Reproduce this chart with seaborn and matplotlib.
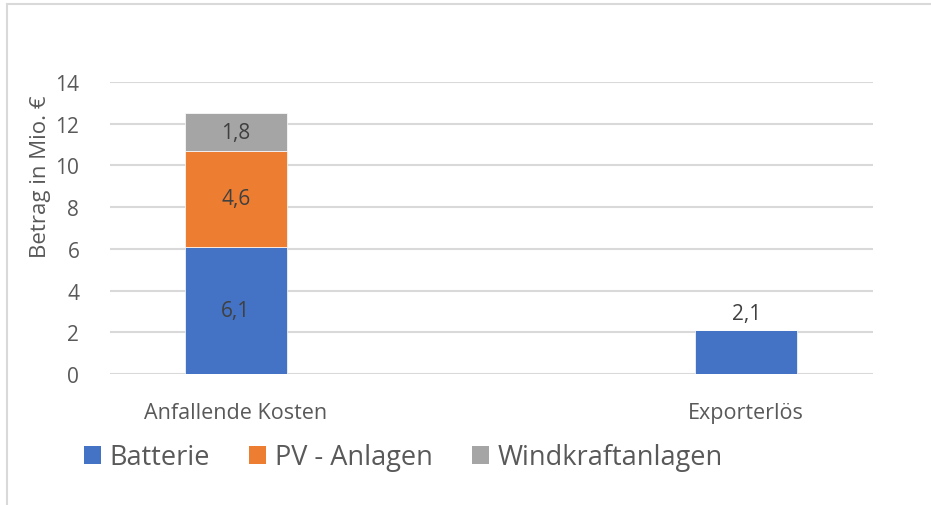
import matplotlib
matplotlib.use("Agg")
import matplotlib.pyplot as plt
import seaborn as sns
import pandas as pd
from matplotlib.lines import Line2D
from matplotlib.patches import Patch

categories = ["Anfallende Kosten", "Exporterlös"]
series = ["Batterie", "PV - Anlagen", "Windkraftanlagen"]
batterie = [6.1, 2.1]
pv_anlagen = [4.6, 0.0]
windkraft = [1.8, 0.0]
colors = ["#4472C4", "#ED7D31", "#A5A5A5"]

df = pd.DataFrame({"Kategorie": categories, "Batterie": batterie,
                   "PV - Anlagen": pv_anlagen, "Windkraftanlagen": windkraft})

sns.set_theme(style="white")
plt.rcParams["font.family"] = ["Open Sans", "DejaVu Sans"]
text_col = "#595959"

fig = plt.figure(figsize=(9.31, 5.06), dpi=100)
ax = fig.add_axes([0.118, 0.259, 0.82, 0.577])

bottom = [0.0, 0.0]
for name, col in zip(series, colors):
    vals = df[name].tolist()
    bars = ax.bar(range(len(categories)), vals, width=0.2, bottom=bottom,
                  color=col, edgecolor="white", linewidth=0.5, zorder=3)
    for i, (b, v) in enumerate(zip(bars, vals)):
        if v <= 0:
            continue
        lbl = f"{v:.1f}".replace(".", ",")
        if i == 0:
            ax.text(b.get_x() + b.get_width() / 2, bottom[i] + v / 2, lbl,
                    ha="center", va="center", fontsize=15, color="#404040")
        else:
            ax.text(b.get_x() + b.get_width() / 2, bottom[i] + v + 0.3, lbl,
                    ha="center", va="bottom", fontsize=15, color="#404040")
    bottom = [a + b for a, b in zip(bottom, vals)]

ax.set_xlim(-0.247, 1.249)
ax.set_ylim(0, 14)
ax.set_yticks(range(0, 15, 2))
ax.set_xticks(range(len(categories)))
ax.set_xticklabels(categories)
ax.tick_params(axis="both", length=0, labelsize=15, labelcolor=text_col)
ax.tick_params(axis="x", pad=20, labelsize=15.5)
ax.tick_params(axis="y", pad=22)
ax.yaxis.grid(True, color="#D9D9D9", linewidth=1.5, zorder=0)
sns.despine(ax=ax, left=True, bottom=True, top=True, right=True)

ax.set_ylabel("Betrag in Mio. €", fontsize=16, color=text_col)
ax.yaxis.set_label_coords(-0.077, 0.678)

handles = [Patch(facecolor=c, edgecolor="none") for c in colors]
fig.legend(handles, series, loc="center left", bbox_to_anchor=(0.064, 0.094),
           ncol=3, frameon=False, fontsize=19.5, handlelength=0.62, handleheight=0.62,
           handletextpad=0.33, columnspacing=1.45, labelcolor=text_col)

fig.add_artist(Line2D([0.007, 0.007], [0, 0.99], transform=fig.transFigure,
                      color="#D9D9D9", linewidth=1.5))
fig.add_artist(Line2D([0.007, 1.0], [0.99, 0.99], transform=fig.transFigure,
                      color="#D9D9D9", linewidth=1.5))

fig.savefig("out.png", dpi=100)
